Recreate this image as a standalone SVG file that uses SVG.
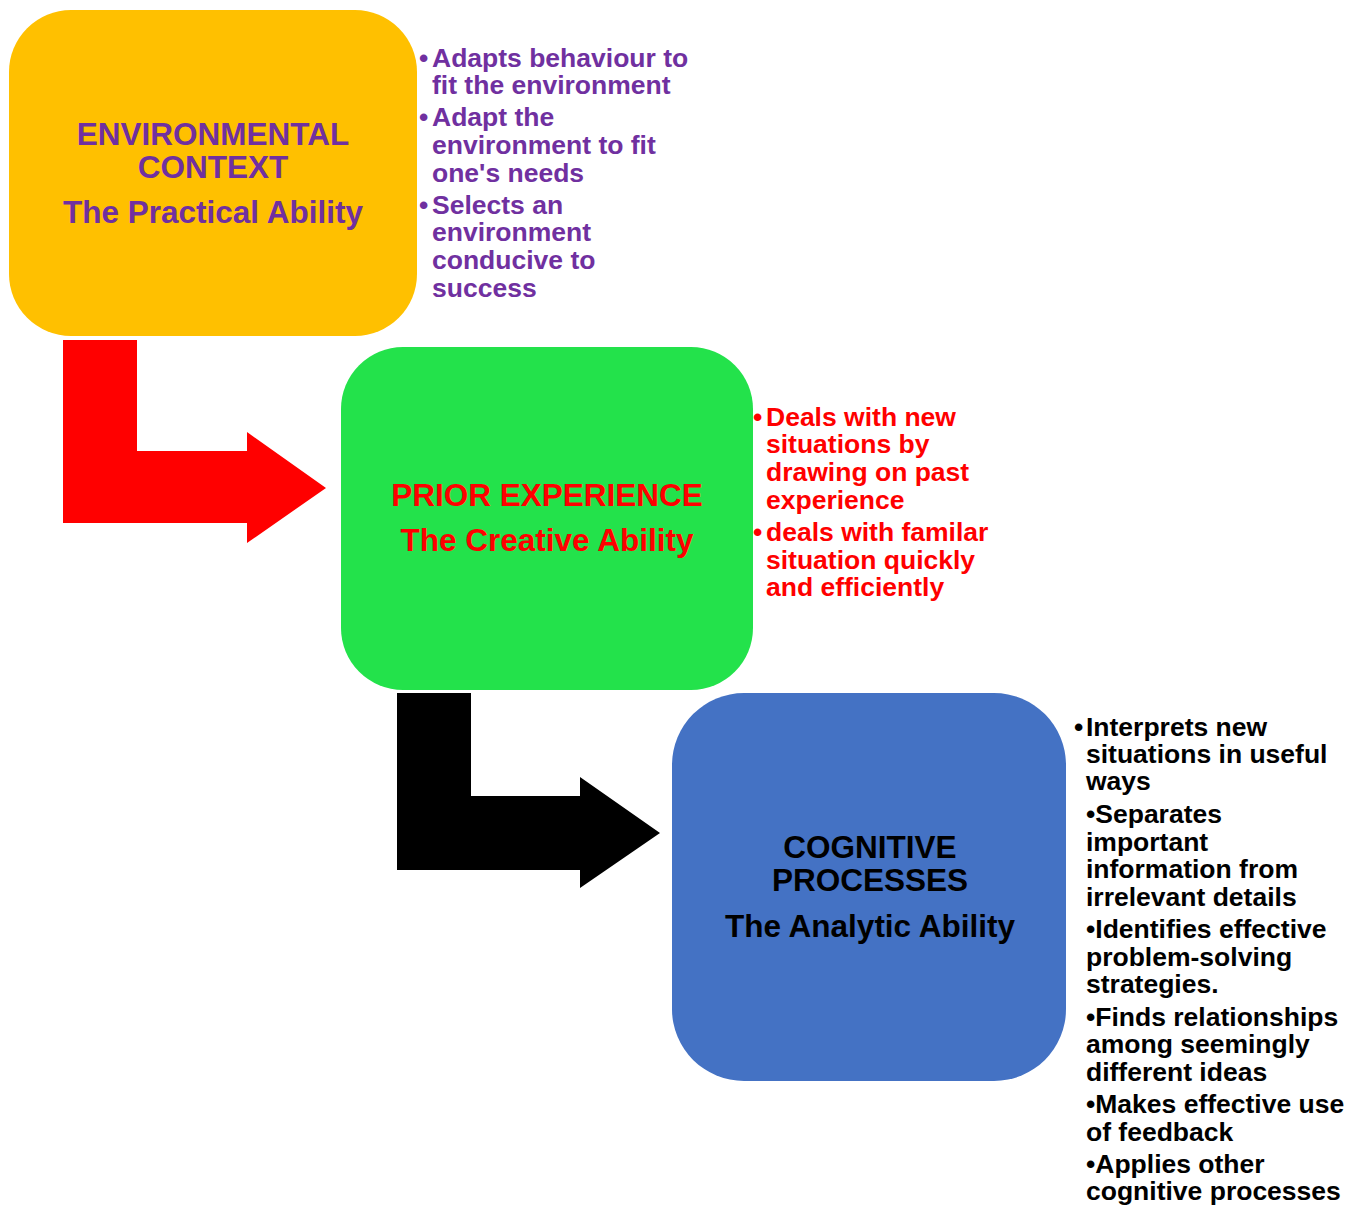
<svg xmlns="http://www.w3.org/2000/svg" width="1360" height="1205" viewBox="0 0 1360 1205">
<style>
text{font-family:"Liberation Sans",Arial,sans-serif;font-weight:bold}
.t{font-size:31.5px;text-anchor:middle}
.b{font-size:26.5px}
.pu{fill:#7030A0}
.rd{fill:#FF0000}
.bk{fill:#000000}
</style>
<rect width="1360" height="1205" fill="#FFFFFF"/>
<g id="connectors">
<path id="arrow1" d="M63,340 H137 V451 H247 V432 L326,488 L247,543 V523 H63 Z" fill="#FF0000"/>
<path id="arrow2" d="M397,693 H471 V796 H580 V777 L660,833 L580,888 V870 H397 Z" fill="#000000"/>
</g>
<g id="node-environmental">
<rect x="9" y="10" width="408" height="326" rx="62" ry="62" fill="#FFC000"/>
<text class="t pu" x="213" y="145">ENVIRONMENTAL<tspan x="213" y="178">CONTEXT</tspan></text>
<text class="t pu" x="213" y="223">The Practical Ability</text>
</g>
<g id="notes-environmental">
<text class="b pu" x="419" y="67">•<tspan x="432">Adapts behaviour to</tspan><tspan x="432" y="94">fit the environment</tspan></text>
<text class="b pu" x="419" y="126">•<tspan x="432">Adapt the</tspan><tspan x="432" y="154">environment to fit</tspan><tspan x="432" y="182">one's needs</tspan></text>
<text class="b pu" x="419" y="214">•<tspan x="432">Selects an</tspan><tspan x="432" y="241">environment</tspan><tspan x="432" y="269">conducive to</tspan><tspan x="432" y="297">success</tspan></text>
</g>
<g id="node-prior">
<rect x="341" y="347" width="412" height="343" rx="62" ry="62" fill="#23E24B"/>
<text class="t rd" x="547" y="506">PRIOR EXPERIENCE</text>
<text class="t rd" x="547" y="551">The Creative Ability</text>
</g>
<g id="notes-prior">
<text class="b rd" x="753" y="426">•<tspan x="766">Deals with new</tspan><tspan x="766" y="453">situations by</tspan><tspan x="766" y="481">drawing on past</tspan><tspan x="766" y="509">experience</tspan></text>
<text class="b rd" x="753" y="541">•<tspan x="766">deals with familar</tspan><tspan x="766" y="569">situation quickly</tspan><tspan x="766" y="596">and efficiently</tspan></text>
</g>
<g id="node-cognitive">
<rect x="672" y="693" width="394" height="388" rx="72" ry="72" fill="#4472C4"/>
<text class="t bk" x="870" y="858">COGNITIVE<tspan x="870" y="891">PROCESSES</tspan></text>
<text class="t bk" x="870" y="937">The Analytic Ability</text>
</g>
<g id="notes-cognitive">
<text class="b bk" x="1074" y="736">•<tspan x="1086">Interprets new</tspan><tspan x="1086" y="763">situations in useful</tspan><tspan x="1086" y="790">ways</tspan></text>
<text class="b bk" x="1086" y="823">•Separates<tspan x="1086" y="851">important</tspan><tspan x="1086" y="878">information from</tspan><tspan x="1086" y="906">irrelevant details</tspan></text>
<text class="b bk" x="1086" y="938">•Identifies effective<tspan x="1086" y="966">problem-solving</tspan><tspan x="1086" y="993">strategies.</tspan></text>
<text class="b bk" x="1086" y="1026">•Finds relationships<tspan x="1086" y="1053">among seemingly</tspan><tspan x="1086" y="1081">different ideas</tspan></text>
<text class="b bk" x="1086" y="1113">•Makes effective use<tspan x="1086" y="1141">of feedback</tspan></text>
<text class="b bk" x="1086" y="1173">•Applies other<tspan x="1086" y="1200">cognitive processes</tspan></text>
</g>
</svg>
